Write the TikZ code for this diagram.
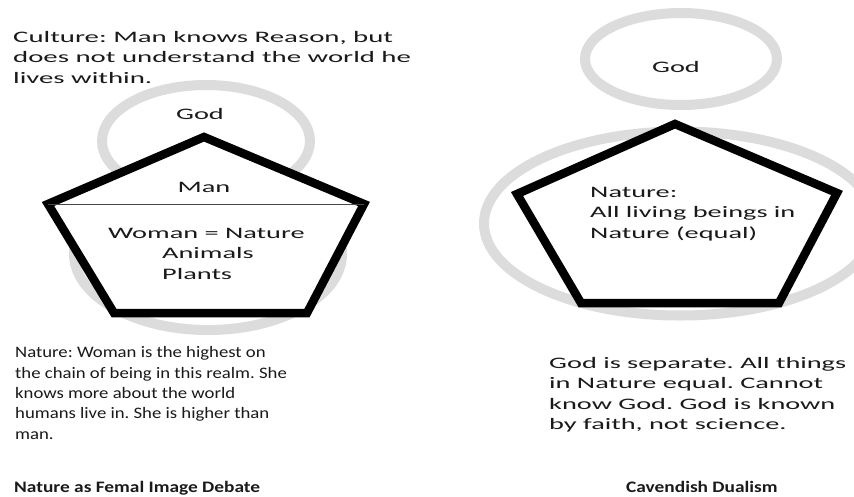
\documentclass[tikz,border=0pt]{standalone}
\usepackage{fontspec}
\setmainfont{Carlito}
\newfontfamily\fwide[FakeStretch=1.77]{Carlito}
\newfontfamily\fwider[FakeStretch=1.8]{Carlito}
\newfontfamily\fmedium[FakeStretch=1.17]{Carlito}
\newfontfamily\ftitle[FakeStretch=1.21]{Carlito}
\frenchspacing
\definecolor{ring}{HTML}{DCDCDC}
\definecolor{ink}{HTML}{1A1A1A}
\tikzset{
  ringline/.style={draw=ring, line width=10pt},
  pent/.style={draw=black, fill=white, line width=8.5pt, line join=miter},
  wtext/.style={inner sep=0pt, text=ink, font=\fwide\frenchspacing\fontsize{16}{20.5}\selectfont, align=left},
  mtext/.style={inner sep=0pt, text=ink, font=\fmedium\frenchspacing\fontsize{16}{20.3}\selectfont, align=left},
  ttext/.style={inner sep=0pt, text=ink, font=\ftitle\bfseries\fontsize{16}{20}\selectfont}
}
\begin{document}
\begin{tikzpicture}[x=1pt,y=-1pt]
\useasboundingbox (0,0) rectangle (854,496);
\fill[white] (0,0) rectangle (854,496);
\begin{scope}
\clip (0,0) rectangle (854,496);
% gray rings
\draw[ringline] (206,141) ellipse [x radius=104, y radius=56];
\draw[ringline] (208,254) ellipse [x radius=134, y radius=76];
\draw[ringline] (681,59) ellipse [x radius=96, y radius=46];
\draw[ringline] (680,223.5) ellipse [x radius=196, y radius=92];
\end{scope}
% left pentagon
\coordinate (lt) at (204,137);
\coordinate (ll) at (48,204);
\coordinate (lr) at (364,204);
\coordinate (lbl) at (114,313);
\coordinate (lbr) at (307,313);
\draw[pent] (lt) -- (lr) -- (lbr) -- (lbl) -- (ll) -- cycle;
\draw[line width=1pt, draw=ink!80] (ll) -- (lr);
% right pentagon
\coordinate (rt) at (675,124);
\coordinate (rl) at (517,194);
\coordinate (rr) at (837,193);
\coordinate (rbl) at (581,303);
\coordinate (rbr) at (779,303);
\draw[pent] (rt) -- (rr) -- (rbr) -- (rbl) -- (rl) -- cycle;
% texts (base anchor = baseline of last line)
\node[wtext, font=\fwider\fontsize{16}{20.5}\selectfont, anchor=base west] (culture) at (13,83) {Culture: Man knows Reason, but\\does not understand the world he\\lives within.};
\node[wtext, anchor=base] (godl) at (200,119) {God};
\node[wtext, anchor=base] (man) at (204,192) {Man};
\node[wtext, anchor=base west] (woman) at (108,279) {Woman = Nature\\\hspace*{54pt}Animals\\\hspace*{54pt}Plants};
\node[wtext, anchor=base] (godr) at (676,72) {God};
\node[wtext, anchor=base west] (naturer) at (590,238) {Nature:\\All living beings in\\Nature (equal)};
\node[mtext, anchor=base west] (naturel) at (15,439) {Nature: Woman is the highest on\\the chain of being in this realm. She\\knows more about the world\\humans live in. She is higher than\\man.};
\node[wtext, anchor=base west] (godsep) at (549,429.5) {God is separate. All things\\in Nature equal. Cannot\\know God. God is known\\by faith, not science.};
\node[ttext, anchor=base west] (titlel) at (14,492) {Nature as Femal Image Debate};
\node[ttext, anchor=base west] (titler) at (626,492) {Cavendish Dualism};
\end{tikzpicture}
\end{document}
